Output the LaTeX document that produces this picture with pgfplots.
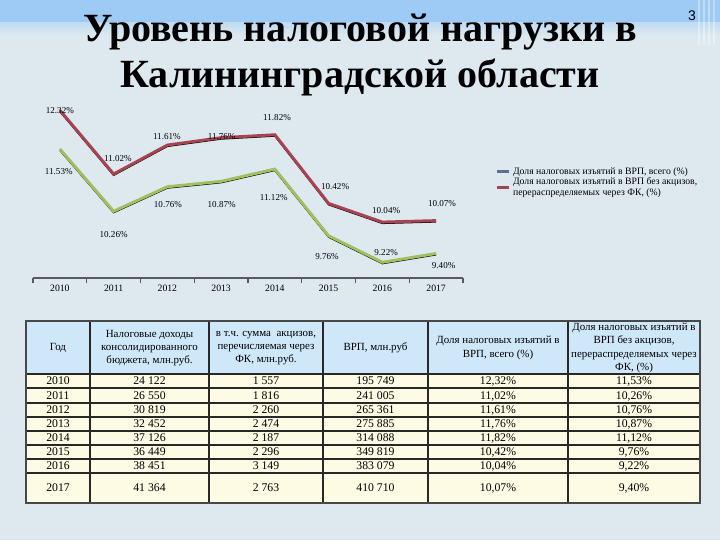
\documentclass[border=0pt]{standalone}
\usepackage{fontspec}
\setmainfont{Liberation Serif}
\newfontfamily\arialfont{Liberation Sans}
\usepackage{pgfplots}
\pgfplotsset{compat=1.18}

\definecolor{bg}{RGB}{221,233,239}
\definecolor{topblue}{RGB}{157,203,246}
\definecolor{redl}{RGB}{168,68,82}
\definecolor{greenl}{RGB}{160,192,96}
\definecolor{axisgray}{RGB}{90,90,90}
\definecolor{legblue}{RGB}{92,112,150}
\definecolor{legred}{RGB}{160,70,90}
\definecolor{headfill}{RGB}{206,231,249}
\definecolor{cellfill}{RGB}{253,251,228}
\definecolor{tline}{RGB}{40,40,40}

% one table row: y centre, then the six cells
\newcommand\trow[7]{%
  \node at (58,-#1) {#2};
  \node at (149.5,-#1) {#3};
  \node at (266,-#1) {#4};
  \node at (375.5,-#1) {#5};
  \node at (498,-#1) {#6};
  \node at (634,-#1) {#7};
}

\begin{document}
\begin{tikzpicture}[x=0.75pt,y=0.75pt]
\path[use as bounding box] (0,0) rectangle (720,-540);

% slide background
\fill[bg] (0,0) rectangle (720,-540);
\fill[topblue] (0,0) rectangle (720,-22);
\shade[top color=topblue!45!bg, bottom color=bg] (0,-22) rectangle (720,-36);
\foreach \xx in {698,703,708,713} \fill[white, opacity=0.35] (\xx,0) rectangle (\xx+2,-45);

\node[font=\arialfont\fontsize{10.5}{12}\selectfont] at (692,-16) {3};
\node[font=\fontsize{30}{34}\selectfont\bfseries, align=center] at (360,-55)
  {Уровень налоговой нагрузки в\\Калининградской области};

% chart
\begin{axis}[
    at={(24.75pt,-208.5pt)}, anchor=south west,
    scale only axis,
    width=322.5pt, height=137.25pt,
    xmin=-0.5, xmax=7.5,
    ymin=8.90, ymax=12.63,
    axis x line*=bottom,
    axis y line=none,
    x axis line style={draw=axisgray, line width=1.5pt},
    xtick={0,1,2,3,4,5,6,7},
    xticklabels={2010,2011,2012,2013,2014,2015,2016,2017},
    minor xtick={-0.5,0.5,...,7.5},
    major tick length=0pt,
    minor tick length=4pt,
    tick align=outside,
    tick style={draw=axisgray, line width=1pt},
    xticklabel style={font=\fontsize{7.3}{8}\selectfont, yshift=-2pt},
    clip=false,
    legend style={
        at={(1.074,0.61)}, anchor=north west,
        draw=none, fill=none, inner sep=0pt, row sep=0pt,
        font=\fontsize{7.3}{8.1}\selectfont,
        nodes={inner ysep=0.6pt},
        cells={anchor=west, align=left},
    },
]

\addplot[black, line width=1.2pt, yshift=-0.9pt, forget plot]
  coordinates {(0,12.32)(1,11.02)(2,11.61)(3,11.76)(4,11.82)(5,10.42)(6,10.04)(7,10.07)};
\addplot[redl, line width=2.2pt, forget plot]
  coordinates {(0,12.32)(1,11.02)(2,11.61)(3,11.76)(4,11.82)(5,10.42)(6,10.04)(7,10.07)};

\addplot[black, line width=1.2pt, yshift=-0.9pt, forget plot]
  coordinates {(0,11.53)(1,10.26)(2,10.76)(3,10.87)(4,11.12)(5,9.76)(6,9.22)(7,9.40)};
\addplot[greenl, line width=2.2pt, forget plot]
  coordinates {(0,11.53)(1,10.26)(2,10.76)(3,10.87)(4,11.12)(5,9.76)(6,9.22)(7,9.40)};

% data labels, placed where the reference shows them
\addplot[draw=none, forget plot,
    nodes near coords={\pgfplotspointmeta\%},
    point meta=explicit symbolic,
    nodes near coords align=center,
    every node near coord/.append style={font=\fontsize{6.8}{8}\selectfont, inner sep=0pt},
] table[meta=lab] {
x     y     lab
0     12.31 12.32
1.08  11.33 11.02
1.99  11.78 11.61
3.01  11.78 11.76
4.04  12.18 11.82
5.12  10.76 10.42
6.07  10.27 10.04
7.11  10.41 10.07
-0.02 11.06 11.53
1.00  9.78  10.26
2.01  10.39 10.76
3.01  10.39 10.87
3.98  10.55 11.12
4.97  9.33  9.76
6.07  9.41  9.22
7.14  9.15  9.40
};

\addlegendimage{legend image code/.code={\draw[legblue, line width=2.5pt] (0pt,0pt) -- (9pt,0pt);}}
\addlegendentry{Доля налоговых изъятий в ВРП, всего (\%)}
\addlegendimage{legend image code/.code={\draw[legred, line width=2.5pt] (0pt,0pt) -- (9pt,0pt);}}
\addlegendentry{Доля налоговых изъятий в ВРП без акцизов,\\перераспределяемых через ФК, (\%)}
\end{axis}

% table
\fill[headfill] (26,-321) rectangle (700,-374);
\fill[cellfill] (26,-374) rectangle (700,-503);
\foreach \yy in {374,388,403,417,431,445,459,473}
  \draw[tline, line width=0.8pt] (26,-\yy) -- (700,-\yy);
\foreach \xx in {90,209,323,428,568}
  \draw[tline, line width=1pt] (\xx,-321) -- (\xx,-503);
\draw[tline!85, line width=1.6pt] (26,-321) rectangle (700,-503);

\begin{scope}[every node/.style={font=\fontsize{8.2}{10}\selectfont, align=center, inner sep=0pt}]
\node at (58,-348) {Год};
\node at (149.5,-348) {Налоговые доходы\\консолидированного\\бюджета, млн.руб.};
\node at (266,-348) {в т.ч. сумма\ \ акцизов,\\перечисляемая через\\ФК, млн.руб.};
\node at (375.5,-348) {ВРП, млн.руб};
\node at (498,-348) {Доля налоговых изъятий в\\ВРП, всего (\%)};
\node at (634,-348) {Доля налоговых изъятий в\\ВРП без акцизов,\\перераспределяемых через\\ФК, (\%)};
\end{scope}
\begin{scope}[every node/.style={font=\fontsize{8.8}{10}\selectfont, inner sep=0pt,
    text height=6pt, text depth=0.4pt}]
\trow{381}{2010}{24 122}{1 557}{195 749}{12,32\%}{11,53\%}
\trow{395.5}{2011}{26 550}{1 816}{241 005}{11,02\%}{10,26\%}
\trow{410}{2012}{30 819}{2 260}{265 361}{11,61\%}{10,76\%}
\trow{424}{2013}{32 452}{2 474}{275 885}{11,76\%}{10,87\%}
\trow{438}{2014}{37 126}{2 187}{314 088}{11,82\%}{11,12\%}
\trow{452}{2015}{36 449}{2 296}{349 819}{10,42\%}{9,76\%}
\trow{466}{2016}{38 451}{3 149}{383 079}{10,04\%}{9,22\%}
\trow{488}{2017}{41 364}{2 763}{410 710}{10,07\%}{9,40\%}
\end{scope}
\end{tikzpicture}
\end{document}
